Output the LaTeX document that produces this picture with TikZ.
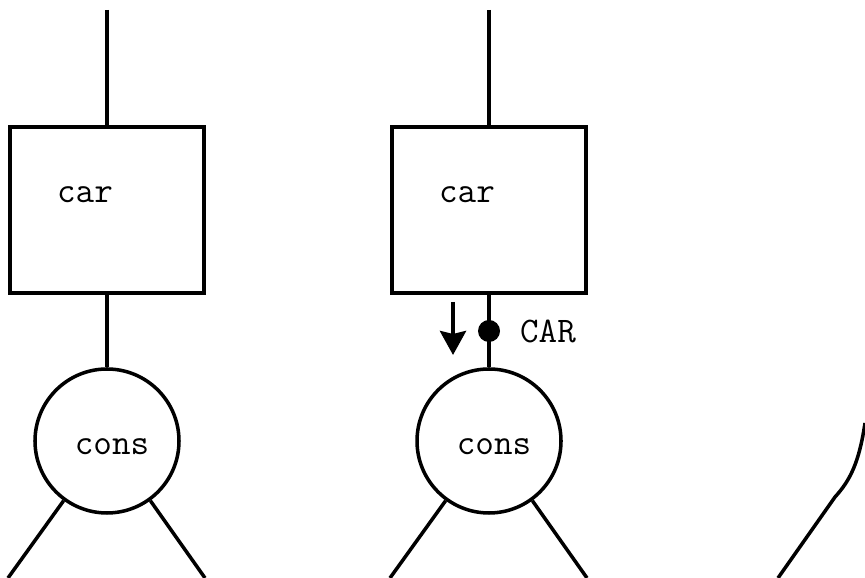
\documentclass[tikz,border=0pt]{standalone}
\usetikzlibrary{arrows.meta}
\begin{document}
\begin{tikzpicture}[line width=2pt, font=\ttfamily\fontsize{20.5}{22}\selectfont]
\useasboundingbox (0, 0) rectangle (17.3, 11.56);

\foreach \n/\x in {a/0, b/7.64} {
	\coordinate (top\n) at (\x+2.14, 11.36);
	\node[draw, minimum width=3.88cm, minimum height=3.32cm] (box\n) at (\x+2.14, 7.36) {};
	\node[draw, circle, inner sep=0pt, minimum size=2.88cm] (cons\n) at (\x+2.14, 2.74) {};
	\node (cartext\n) at (\x+1.7, 7.66) {car};
	\node (constext\n) at (\x+2.24, 2.62) {cons};
	\coordinate (left\n) at (\x+0.16, 0);
	\coordinate (right\n) at (\x+4.1, 0);

	\draw (top\n) -- (box\n);
	\draw (box\n) -- (cons\n);
	\draw (cons\n.234) -- (left\n);
	\draw (cons\n.306) -- (right\n);
}

\node[circle, fill, inner sep=0pt, minimum size=0.44cm] (dot) at (9.78, 4.94) {};
\node (cartag) at (10.96, 4.94) {CAR};
\coordinate (arrtop) at (9.06, 5.52);
\coordinate (arrtip) at (9.06, 4.46);
\draw[line width=2.4pt, -{Stealth[width=0.52cm, length=0.48cm, inset=0.06cm]}] (arrtop) -- (arrtip);

\coordinate (arcstart) at (17.3, 3.1);
\coordinate (arcend) at (15.56, 0);
\draw (arcstart) .. controls (17.18, 2.3) and (17.0, 1.95) .. (16.7, 1.62) -- (arcend);
\end{tikzpicture}
\end{document}
